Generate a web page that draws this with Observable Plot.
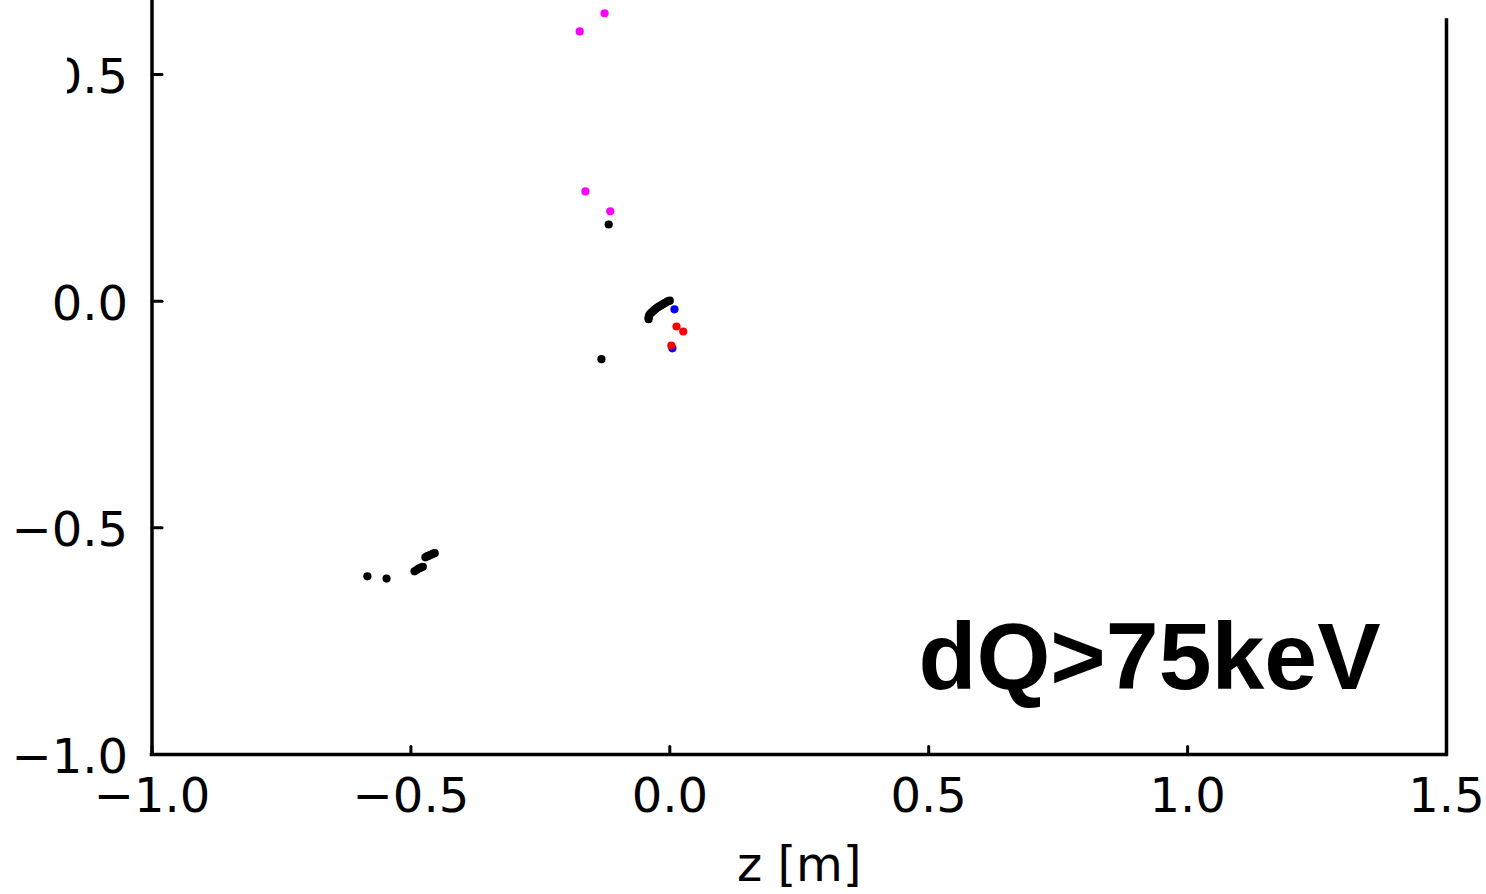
<!DOCTYPE html>
<html>
<head>
<meta charset="utf-8">
<script src="https://cdn.jsdelivr.net/npm/d3@7"></script>
<script src="https://cdn.jsdelivr.net/npm/@observablehq/plot@0.6"></script>
<style>
  html, body { margin: 0; padding: 0; background: #fff; }
  #wrap { position: relative; width: 1486px; height: 894px; overflow: hidden; }
  #mask { position: absolute; left: 0; top: 0; width: 67px; height: 200px; background: #fff; }
</style>
</head>
<body>
<div id="wrap"><div id="mask"></div></div>
<script>
// Hit positions (z along the beam, second coordinate on the vertical axis), grouped by colour
const magentaZ = [-0.126, -0.174, -0.163, -0.115];
const magentaY = [0.635, 0.595, 0.242, 0.198];

const blackZ = [
  -0.118, -0.132, -0.584, -0.547,
  0.000, -0.003, -0.006, -0.009, -0.012, -0.015, -0.018, -0.021, -0.024,
  -0.027, -0.030, -0.032, -0.035, -0.038, -0.040, -0.041, -0.041,
  -0.493, -0.489, -0.485, -0.481, -0.477,
  -0.472, -0.469, -0.466, -0.463, -0.460, -0.457, -0.454
];
const blackY = [
  0.169, -0.128, -0.607, -0.612,
  0.001, 0.000, -0.002, -0.004, -0.006, -0.008, -0.010, -0.012, -0.014,
  -0.017, -0.019, -0.022, -0.025, -0.028, -0.032, -0.036, -0.040,
  -0.596, -0.593, -0.590, -0.588, -0.586,
  -0.565, -0.563, -0.562, -0.560, -0.559, -0.557, -0.556
];

const blueZ = [0.009, 0.005];
const blueY = [-0.018, -0.104];

const redZ = [0.013, 0.026, 0.003];
const redY = [-0.056, -0.067, -0.098];

// Axis ticks and the label drawn in the lower right corner
const xTicks = [-1.0, -0.5, 0.0, 0.5, 1.0, 1.5];
const yTicks = [-1.0, -0.5, 0.0, 0.5];
const xDomain = [-1.0, 1.5];
const yDomain = [-1.0, 0.619];
const leftSpineTop = 0.663;
const xLabel = "z [m]";
const cutLabel = "dQ>75keV";

const pts = (xs, ys) => xs.map((x, i) => ({x, y: ys[i]}));
const fmt = d3.format(".1f");

// short inward tick drawn from the anchor point
const tickShape = {draw(context, l) { context.moveTo(0, 0); context.lineTo(0, -l); }};

const dot = (data, fill) => Plot.dot(data, {x: "x", y: "y", r: 4.1, fill, stroke: null});

const chart = Plot.plot({
  width: 1486,
  height: 894,
  marginLeft: 151.5,
  marginRight: 40,
  marginTop: 20,
  marginBottom: 140,
  style: {fontFamily: "DejaVu Sans", fontSize: "48px", background: "transparent", color: "#000"},
  x: {domain: xDomain},
  y: {domain: yDomain},
  marks: [
    // tick labels
    Plot.axisX(xTicks, {tickSize: 0, tickPadding: 23, tickFormat: fmt, fontSize: 48, label: null}),
    Plot.axisY(yTicks, {tickSize: 0, tickPadding: 24, tickFormat: fmt, fontSize: 48, label: null, dy: 3}),
    // inward ticks
    Plot.vector(xTicks, {x: d => d, y: yDomain[0], length: 8, rotate: 0, anchor: "start", shape: tickShape, stroke: "#000", strokeWidth: 3}),
    Plot.vector(yTicks, {x: xDomain[0], y: d => d, length: 10, rotate: 90, anchor: "start", shape: tickShape, stroke: "#000", strokeWidth: 3}),
    // spines
    Plot.ruleY([yDomain[0]], {x1: xDomain[0], x2: xDomain[1], stroke: "#000", strokeWidth: 3.5, strokeLinecap: "square"}),
    Plot.ruleX([xDomain[0]], {y1: yDomain[0], y2: leftSpineTop, stroke: "#000", strokeWidth: 3.5, strokeLinecap: "square"}),
    Plot.ruleX([xDomain[1]], {y1: yDomain[0], y2: yDomain[1], stroke: "#000", strokeWidth: 3.5, strokeLinecap: "square"}),
    // hits
    dot(pts(magentaZ, magentaY), "#ff00ff"),
    dot(pts(blackZ, blackY), "#000000"),
    dot(pts(blueZ, blueY), "#0000ff"),
    dot(pts(redZ, redY), "#ff0000"),
    // axis title and energy cut label
    Plot.text([xLabel], {frameAnchor: "bottom", dy: 126, lineAnchor: "bottom", fontSize: 48, fill: "#000"}),
    Plot.text([cutLabel], {frameAnchor: "bottom-right", dx: -66, dy: -66, textAnchor: "end", lineAnchor: "bottom",
      fontSize: 95, fontWeight: "bold", fontFamily: "Liberation Sans", fill: "#000"})
  ]
});

const wrap = document.getElementById("wrap");
wrap.insertBefore(chart, wrap.firstChild);
chart.style.position = "absolute";
chart.style.left = "0";
chart.style.top = "0";
</script>
</body>
</html>
